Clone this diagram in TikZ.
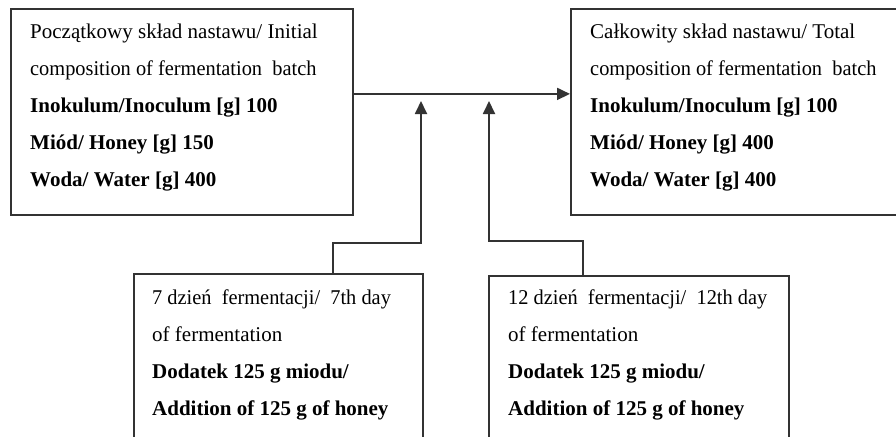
\documentclass[tikz,border=0pt]{standalone}
\usepackage{graphicx}
\usepackage{fontspec}
\setmainfont{Liberation Serif}
\usetikzlibrary{arrows.meta}
\begin{document}
\begin{tikzpicture}[x=1pt,y=-1pt,
  box/.style={draw=black!80, line width=1.8pt, anchor=north west, inner sep=0pt},
  txt/.style={anchor=north west, inner sep=0pt, align=left, font=\fontsize{21}{37}\selectfont},
  conn/.style={draw=black!80, line width=1.8pt},
  arr/.style={conn, -{Triangle[length=13pt,width=12pt]}}]
\useasboundingbox (0,0) rectangle (896,436);
\clip (0,0) rectangle (896,436);
% boxes
\node[box, minimum width=342pt, minimum height=206pt] (init) at (10,8) {};
\node[box, minimum width=360pt, minimum height=206pt] (total) at (570,8) {};
\node[box, minimum width=289pt, minimum height=220pt] (day7) at (133,273) {};
\node[box, minimum width=300pt, minimum height=220pt] (day12) at (488,275) {};
% texts
\node[txt] (tinit) at (30,16) {\rule{0pt}{22pt}Początkowy skład nastawu/ Initial\\
\scalebox{0.97}[1]{composition of fermentation\ \ batch}\\
\textbf{Inokulum/Inoculum [g] 100}\\
\textbf{Miód/ Honey [g] 150}\\
\textbf{Woda/ Water [g] 400}};
\node[txt] (ttotal) at (590,16) {\rule{0pt}{22pt}Całkowity skład nastawu/ Total\\
\scalebox{0.97}[1]{composition of fermentation\ \ batch}\\
\textbf{Inokulum/Inoculum [g] 100}\\
\textbf{Miód/ Honey [g] 400}\\
\textbf{Woda/ Water [g] 400}};
\node[txt] (tday7) at (152,282) {\rule{0pt}{22pt}\scalebox{0.97}[1]{7 dzień\ \ fermentacji/\ \ 7th day}\\
of fermentation\\
\textbf{Dodatek 125 g miodu/}\\
\textbf{Addition of 125 g of honey}};
\node[txt] (tday12) at (508,282) {\rule{0pt}{22pt}\scalebox{0.97}[1]{12 dzień\ \ fermentacji/\ \ 12th day}\\
of fermentation\\
\textbf{Dodatek 125 g miodu/}\\
\textbf{Addition of 125 g of honey}};
% connector points
\coordinate (j1) at (421,101);
\coordinate (j2) at (489,101);
\coordinate (k1) at (421,243);
\coordinate (k2) at (489,241);
% connectors
\draw[arr] ([yshift=18pt]init.east) -- ([yshift=18pt]total.west);
\draw[arr] ([xshift=54.5pt]day7.north) |- (k1) -- (j1);
\draw[arr] ([xshift=-56pt]day12.north) |- (k2) -- (j2);
\end{tikzpicture}
\end{document}
